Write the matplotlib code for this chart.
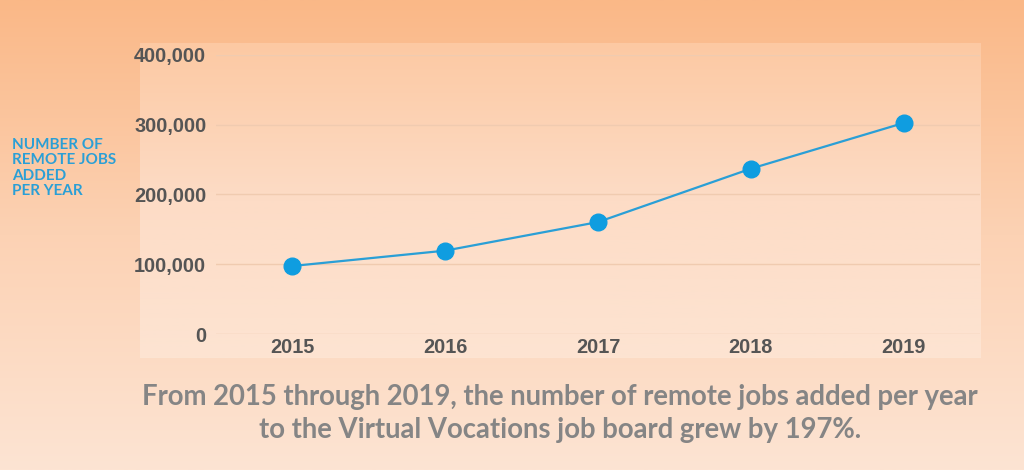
import numpy as np
import matplotlib.pyplot as plt
from matplotlib.colors import LinearSegmentedColormap
from matplotlib.ticker import FuncFormatter

# data
years = ["2015", "2016", "2017", "2018", "2019"]
jobs = [97500, 119500, 160500, 237000, 302500]
yticks = [0, 100000, 200000, 300000, 400000]

W, H = 1024, 470
fig = plt.figure(figsize=(W / 100, H / 100), dpi=100)

# page background: orange top fading to pale peach
bg = fig.add_axes([0, 0, 1, 1])
bg_cmap = LinearSegmentedColormap.from_list("bg", ["#fab887", "#fcd2b4", "#fde4d3"])
bg.imshow(np.linspace(0, 1, 256).reshape(-1, 1), aspect="auto", cmap=bg_cmap,
          extent=[0, 1, 0, 1], origin="upper")
bg.axis("off")

# lighter chart panel
panel = fig.add_axes([140 / W, 1 - 358 / H, (981 - 140) / W, (358 - 43) / H])
p_cmap = LinearSegmentedColormap.from_list("panel", ["#fcc9a3", "#fddcc6", "#fde4d2"])
panel.imshow(np.linspace(0, 1, 256).reshape(-1, 1), aspect="auto", cmap=p_cmap,
             extent=[0, 1, 0, 1], origin="upper")
panel.axis("off")

ax = fig.add_axes([216 / W, 1 - 334 / H, (980 - 216) / W, (334 - 55) / H])
ax.patch.set_alpha(0)
x = np.arange(len(years))
ax.plot(x, jobs, color="#2a9fd6", lw=1.6, zorder=3)
ax.plot(x, jobs, "o", color="#0f9de0", ms=12, zorder=4)

ax.set_xlim(-0.5, 4.5)
ax.set_ylim(0, 400000)
ax.set_yticks(yticks)
ax.set_xticks(x)
ax.set_xticklabels(years)
ax.yaxis.set_major_formatter(FuncFormatter(lambda v, p: f"{int(v):,}"))
ax.grid(axis="y", color="#f0cbb0", lw=1)
ax.set_axisbelow(True)
for s in ax.spines.values():
    s.set_visible(False)
ax.tick_params(length=0, labelsize=14.3, labelcolor="#555555", pad=7)
ax.tick_params(axis="x", pad=3)
for lab in ax.get_xticklabels() + ax.get_yticklabels():
    lab.set_fontfamily("Liberation Sans")
    lab.set_fontweight("bold")

fig.text(12 / W, 1 - 138 / H, "NUMBER OF\nREMOTE JOBS\nADDED\nPER YEAR",
         ha="left", va="top", color="#2a9fd6", fontsize=11, fontweight="bold",
         family="Lato", linespacing=1.12)

fig.text(560 / W, 1 - 397 / H,
         "From 2015 through 2019, the number of remote jobs added per year",
         ha="center", va="center", color="#858585", fontsize=19.8,
         fontweight="bold", family="Lato")
fig.text(560 / W, 1 - 430 / H,
         "to the Virtual Vocations job board grew by 197%.",
         ha="center", va="center", color="#858585", fontsize=19.8,
         fontweight="bold", family="Lato")

fig.savefig("out.png", dpi=100)
